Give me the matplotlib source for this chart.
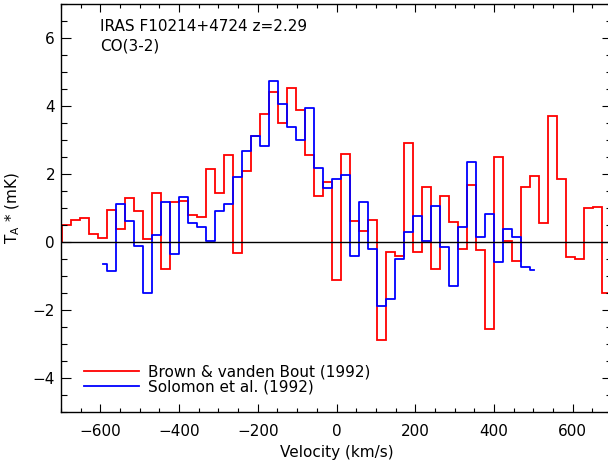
import matplotlib
matplotlib.use("Agg")
import numpy as np
import matplotlib.pyplot as plt
from matplotlib.ticker import MultipleLocator

plt.rcParams.update({'font.family': 'DejaVu Sans', 'font.size': 11})

# Brown & vanden Bout (1992): channel centres (km/s), T_A* (mK)
brown_vel = [-686, -663, -640, -617, -594, -572, -549, -526, -503, -480,
             -457, -434, -411, -389, -366, -343, -320, -297, -274, -251,
             -229, -206, -183, -160, -137, -114, -91, -69, -46, -23,
             0, 23, 46, 69, 91, 114, 137, 160, 183, 206,
             229, 251, 274, 297, 320, 343, 366, 389, 411, 434,
             457, 480, 503, 526, 549, 572, 594, 617, 640, 663, 686]
brown_ta = [0.49, 0.64, 0.70, 0.24, 0.10, 0.92, 0.38, 1.29, 0.89, 0.07,
            1.42, -0.80, 1.17, 1.21, 0.80, 0.74, 2.14, 1.42, 2.56, -0.33,
            2.08, 3.11, 3.76, 4.39, 3.48, 4.51, 3.87, 2.55, 1.33, 1.75,
            -1.12, 2.59, 0.62, 0.32, 0.64, -2.89, -0.30, -0.41, 2.89, -0.31,
            1.61, -0.81, 1.35, 0.58, -0.21, 1.66, -0.24, -2.57, 2.50, 0.03,
            -0.57, 1.62, 1.93, 0.55, 3.69, 1.84, -0.44, -0.50, 0.98, 1.03, -1.52]

# Solomon et al. (1992)
solomon_vel = [-594, -572, -549, -526, -503, -480, -457, -434, -411, -389,
               -366, -343, -320, -297, -274, -251, -229, -206, -183, -160,
               -137, -114, -91, -69, -46, -23, 0, 23, 46, 69,
               91, 114, 137, 160, 183, 206, 229, 251, 274, 297,
               320, 343, 366, 389, 411, 434, 457, 480, 503]
solomon_ta = [-0.66, -0.85, 1.12, 0.60, -0.12, -1.51, 0.21, 1.17, -0.35, 1.31,
              0.56, 0.42, 0.03, 0.90, 1.11, 1.91, 2.67, 3.12, 2.81, 4.72,
              4.04, 3.36, 2.99, 3.92, 2.17, 1.57, 1.85, 1.96, -0.42, 1.16,
              -0.22, -1.88, -1.69, -0.50, 0.28, 0.77, 0.01, 1.05, -0.15, -1.30,
              0.42, 2.35, 0.15, 0.82, -0.61, 0.38, 0.15, -0.74, -0.82]

fig = plt.figure(figsize=(6.08, 4.61), dpi=100)
ax = fig.add_axes([61 / 608, 49.3 / 461, 551 / 608, 408 / 461])

# full-width channels for the Brown spectrum (it runs off both ends of the plot)
v = np.array(brown_vel, dtype=float)
mid = (v[1:] + v[:-1]) / 2
edges = np.concatenate(([v[0] - (mid[0] - v[0])], mid, [v[-1] + (v[-1] - mid[-1])]))
ax.stairs(brown_ta, edges, color='red', lw=1.3, label='Brown & vanden Bout (1992)')
ax.step(solomon_vel, solomon_ta, where='mid', color='blue', lw=1.3,
        label='Solomon et al. (1992)')
ax.axhline(0, color='black', lw=1.0)

ax.text(-600, 6.19, 'IRAS F10214+4724 z=2.29', va='baseline')
ax.text(-600, 5.63, 'CO(3-2)', va='baseline')

ax.set_xlim(-700, 700)
ax.set_ylim(-5, 7)
ax.xaxis.set_major_locator(MultipleLocator(200))
ax.xaxis.set_minor_locator(MultipleLocator(50))
ax.yaxis.set_major_locator(MultipleLocator(2))
ax.yaxis.set_minor_locator(MultipleLocator(0.5))
ax.tick_params(axis='both', which='both', direction='in', top=True, right=True,
               width=0.8, colors='black')
ax.tick_params(axis='x', which='major', length=5.8, pad=8.5)
ax.tick_params(axis='x', which='minor', length=2.9)
ax.tick_params(axis='y', which='major', length=7.5, pad=4.3)
ax.tick_params(axis='y', which='minor', length=4.0)
for s in ax.spines.values():
    s.set_linewidth(1.0)

ax.set_xlabel('Velocity (km/s)', labelpad=5)
ax.set_ylabel(r'T$_{\rm A}$ * (mK)', labelpad=8)

ax.legend(loc='lower left', bbox_to_anchor=(0.0423, 0.043), frameon=False,
          fontsize=11, borderpad=0, borderaxespad=0, handlelength=3.6,
          handletextpad=0.58, labelspacing=0.0)

fig.savefig('out.png', dpi=100)
